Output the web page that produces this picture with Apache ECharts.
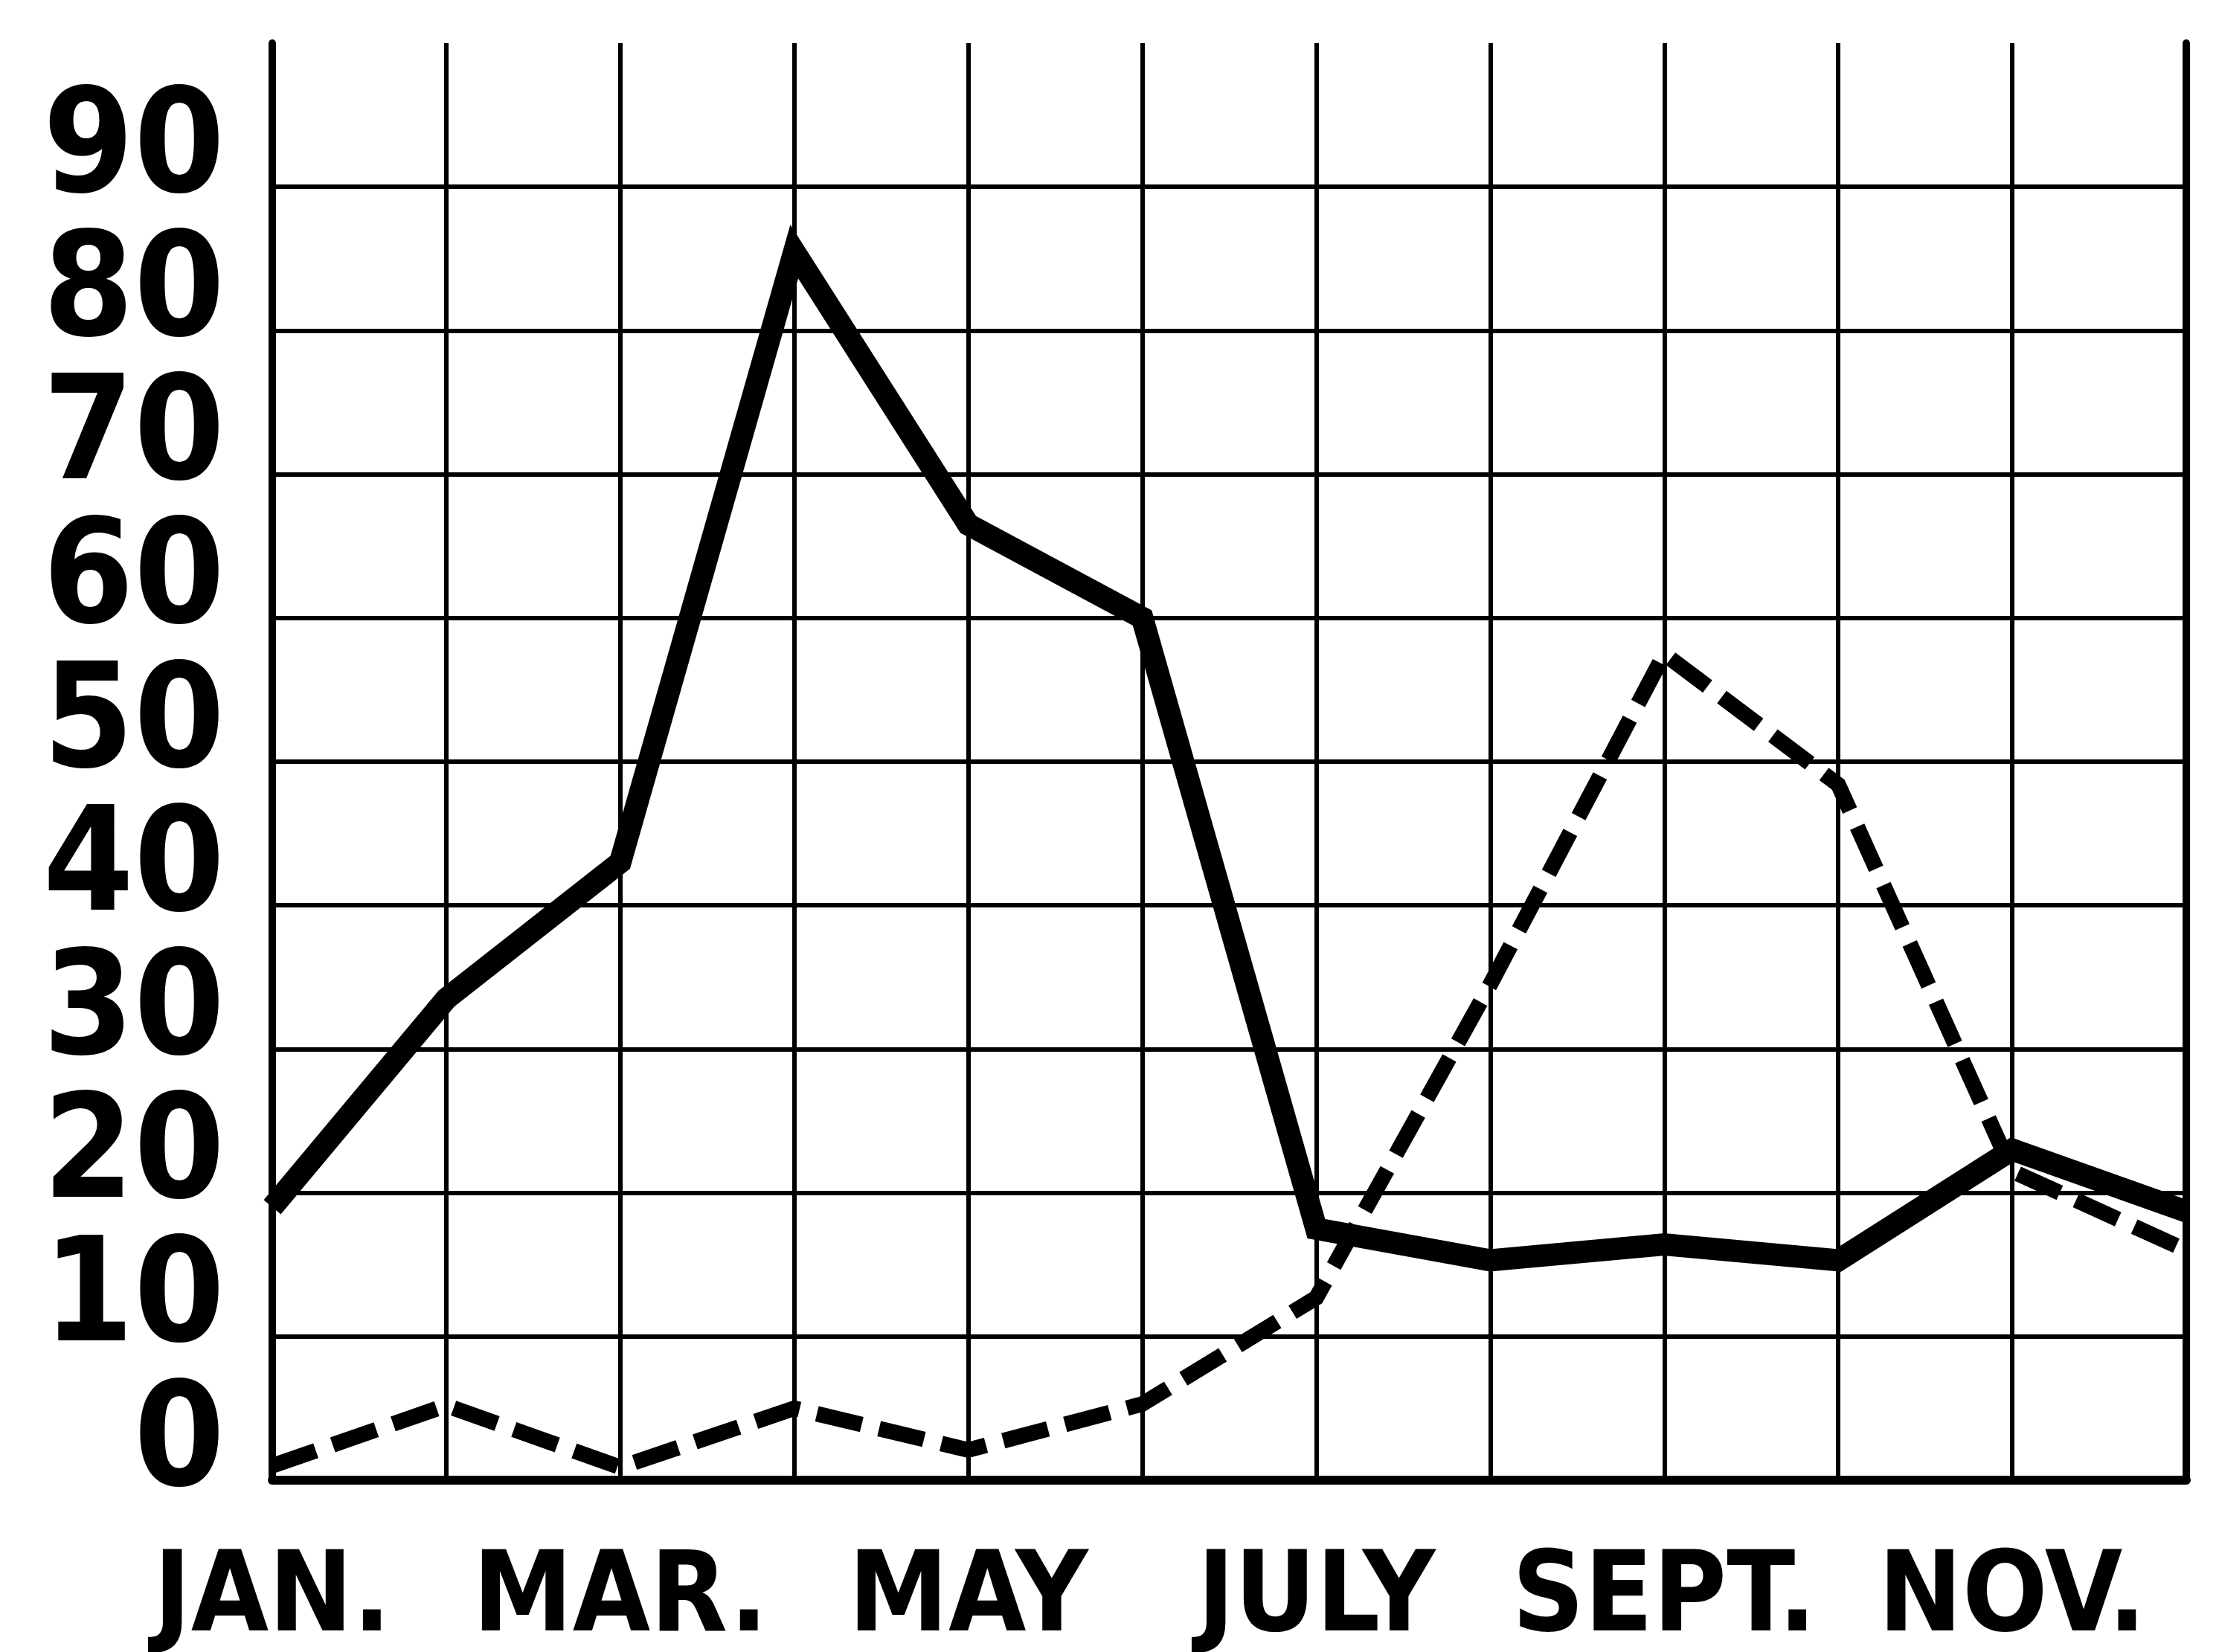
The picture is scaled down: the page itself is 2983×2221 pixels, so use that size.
<!DOCTYPE html>
<html>
<head>
    <meta charset="UTF-8">
    <title>Monthly chart</title>
    <script type="text/javascript" src="https://cdn.jsdelivr.net/npm/echarts@6/dist/echarts.min.js"></script>
    <style>
        html, body { margin: 0; padding: 0; background: #fff; }
        #myChart { width: 2983px; height: 2221px; }
    </style>
</head>
<body>
    <div id="myChart"></div>
<script>
// months (only every other one is labelled on the axis)
var months = ['JAN.', 'FEB.', 'MAR.', 'APR.', 'MAY', 'JUNE', 'JULY', 'AUG.', 'SEPT.', 'OCT.', 'NOV.', 'DEC.'];
// left tick labels, bottom to top (no label at the top edge, 100)
var yTicks = ['0', '10', '20', '30', '40', '50', '60', '70', '80', '90', ''];
// heavy solid line
var solidValues = [19, 33.5, 43, 85.5, 66.5, 60, 17.5, 15.3, 16.4, 15.3, 23, 18.7];
// dashed line
var dashedValues = [1, 5.2, 0.9, 5, 2.1, 5.3, 12.7, 34.5, 57.5, 48.4, 21.5, 16];

var chart_myChart = echarts.init(document.getElementById('myChart'), null, {renderer: 'canvas'});

var labelFont = '"DejaVu Sans Condensed", "DejaVu Sans", sans-serif';

var option = {
    backgroundColor: '#ffffff',
    animation: false,
    grid: {
        left: 366,
        right: 44,
        top: 58,
        bottom: 231,
        outerBoundsMode: 'none'
    },
    xAxis: {
        type: 'category',
        data: months,
        boundaryGap: false,
        axisLine: {
            show: true,
            lineStyle: {color: '#000', width: 12}
        },
        axisTick: {show: false},
        axisLabel: {
            interval: 1,
            margin: 88,
            color: '#000',
            fontFamily: labelFont,
            fontWeight: 'bold',
            fontSize: 150
        },
        splitLine: {
            show: true,
            interval: 0,
            lineStyle: {color: '#000', width: 6}
        }
    },
    yAxis: [{
        // value scale of the lines, with the horizontal rules
        type: 'value',
        min: 0,
        max: 100,
        interval: 10,
        axisLine: {
            show: true,
            lineStyle: {color: '#000', width: 10}
        },
        axisTick: {show: false},
        axisLabel: {show: false},
        splitLine: {
            show: true,
            showMaxLine: false,
            lineStyle: {color: '#000', width: 6}
        }
    }, {
        // right edge of the frame
        type: 'value',
        position: 'right',
        min: 0,
        max: 100,
        interval: 10,
        axisLine: {
            show: true,
            lineStyle: {color: '#000', width: 10}
        },
        axisTick: {show: false},
        axisLabel: {show: false},
        splitLine: {show: false}
    }, {
        // tick labels 0 - 90, sitting just above their rules
        type: 'category',
        position: 'left',
        offset: 0,
        data: yTicks,
        boundaryGap: false,
        axisLine: {show: false},
        axisTick: {show: false},
        splitLine: {show: false},
        axisLabel: {
            interval: 0,
            margin: 64,
            color: '#000',
            fontFamily: labelFont,
            fontWeight: 'bold',
            fontSize: 195,
            verticalAlign: 'bottom',
            lineHeight: 90
        }
    }],
    series: [{
        name: 'dashed',
        type: 'line',
        data: dashedValues,
        showSymbol: false,
        z: 3,
        lineStyle: {
            color: '#000',
            width: 21,
            type: [62, 24],
            cap: 'butt',
            join: 'miter'
        }
    }, {
        name: 'solid',
        type: 'line',
        data: solidValues,
        showSymbol: false,
        z: 4,
        lineStyle: {
            color: '#000',
            width: 30,
            type: 'solid',
            join: 'miter',
            miterLimit: 10
        }
    }]
};

chart_myChart.setOption(option);
</script>
</body>
</html>
